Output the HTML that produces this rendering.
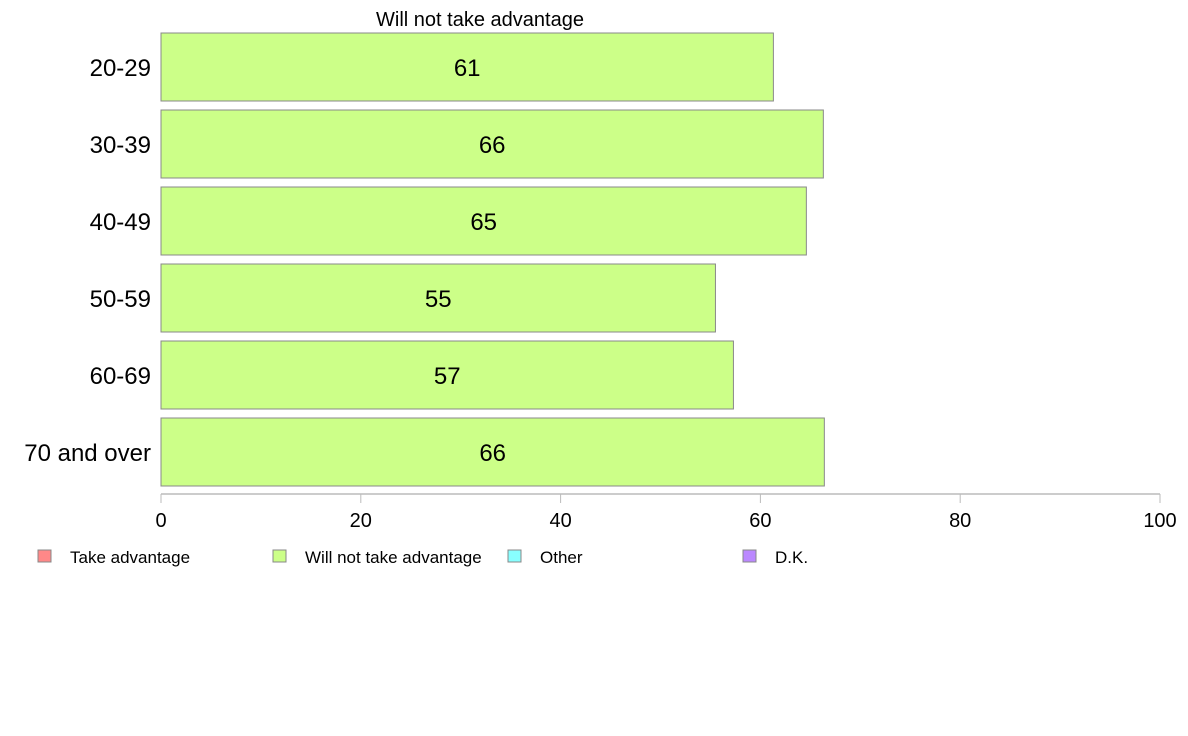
<!DOCTYPE html>
<html><head><meta charset="utf-8">
<style>
html,body{margin:0;padding:0;background:#fff;}
svg{display:block;font-family:"Liberation Sans",Arial,sans-serif;}
</style></head>
<body>
<svg id="chart" width="1188" height="736" viewBox="0 0 1188 736">
<text x="480" y="26" font-size="20" text-anchor="middle" fill="#000">Will not take advantage</text>
<g id="bars"></g>
<g id="yaxis"></g>
<g id="xaxis"></g>
<g id="legend"></g>
</svg>
<script>
const categories = ["20-29","30-39","40-49","50-59","60-69","70 and over"];
const values = [61.3, 66.3, 64.6, 55.5, 57.3, 66.4];
const labels = ["61","66","65","55","57","66"];
const xTicks = [0,20,40,60,80,100];
const legendNames = ["Take advantage","Will not take advantage","Other","D.K."];
const legendColors = ["#ff8888","#ccff88","#88ffff","#bb88ff"];

const NS="http://www.w3.org/2000/svg";
function mk(tag, attrs, parent){const e=document.createElementNS(NS,tag);for(const k in attrs)e.setAttribute(k,attrs[k]);parent.appendChild(e);return e;}
const x0=161, x1=1160;
function xs(v){return x0+(v/100)*(x1-x0);}
const topC=67, botC=452;
function yc(i){return topC+(botC-topC)*i/(categories.length-1);}
const bh=68;
const bars=document.getElementById('bars'), ya=document.getElementById('yaxis'), xa=document.getElementById('xaxis'), lg=document.getElementById('legend');
categories.forEach((c,i)=>{
  const r=mk('rect',{x:x0,y:yc(i)-bh/2,width:xs(values[i])-x0,height:bh,fill:'#ccff88',stroke:'#888','stroke-width':1},bars);
  
  
  const t=mk('text',{x:(x0+xs(values[i]))/2,y:yc(i)+9,'font-size':24,'text-anchor':'middle',fill:'#000'},bars);
  t.textContent=labels[i];
  
  
  const l=mk('text',{x:151,y:yc(i)+9,'font-size':24,'text-anchor':'end',fill:'#000'},ya);
  l.textContent=c;
  
  
});
mk('line',{x1:x0,x2:x1,y1:494,y2:494,stroke:'#999','stroke-width':1},xa);
xTicks.forEach(v=>{
  const tk=mk('line',{x1:xs(v),x2:xs(v),y1:494,y2:503,stroke:'#bbb','stroke-width':1},xa);
  
  
  const t=mk('text',{x:xs(v),y:527,'font-size':20,'text-anchor':'middle',fill:'#000'},xa);
  t.textContent=v;
  
  
});
legendNames.forEach((n,i)=>{
  const lx=38+i*235;
  const r=mk('rect',{x:lx,y:550,width:13,height:12,fill:legendColors[i],stroke:'#888','stroke-width':1},lg);
  
  
  const t=mk('text',{x:lx+32,y:563,'font-size':17,fill:'#000'},lg);
  t.textContent=n;
  
  
});
</script>
</body></html>
